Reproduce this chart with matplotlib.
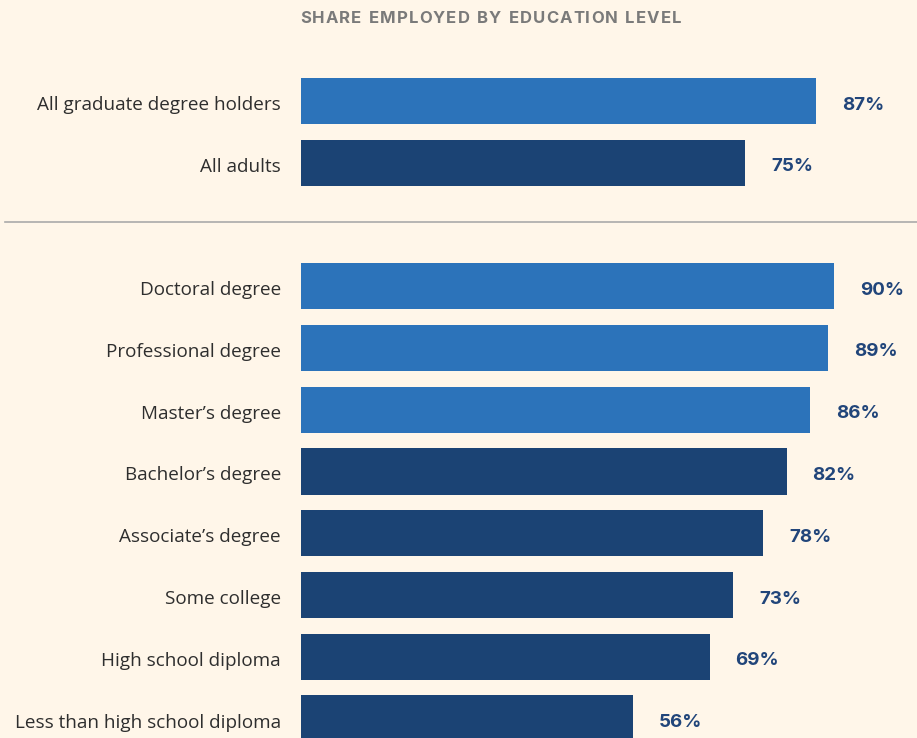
import numpy as np
import matplotlib.pyplot as plt

# data
top_labels = ["All graduate degree holders", "All adults"]
top_values = [87, 75]
top_colors = ["#2C73BA", "#1B4374"]

edu_labels = ["Doctoral degree", "Professional degree", "Master\u2019s degree",
              "Bachelor\u2019s degree", "Associate\u2019s degree", "Some college",
              "High school diploma", "Less than high school diploma"]
edu_values = [90, 89, 86, 82, 78, 73, 69, 56]
edu_colors = ["#2C73BA"] * 3 + ["#1B4374"] * 5

title = "SHARE EMPLOYED BY EDUCATION LEVEL"
bg = "#FFF6E9"

labels = top_labels + edu_labels
values = top_values + edu_values
colors = top_colors + edu_colors
# rows 0,1 then a gap row, then the education levels
rows = np.array([0, 1] + list(range(3, 3 + len(edu_labels))))

fig = plt.figure(figsize=(9.17, 7.38), dpi=100, facecolor=bg)
ax = fig.add_axes([0, 0, 1, 1])
ax.set_facecolor(bg)

px_per_pct = 5.922
row_px = 61.75
ax.set_xlim(-301 / px_per_pct, (917 - 301) / px_per_pct)
ax.set_ylim((738 - 101) / row_px, -101 / row_px)

ax.barh(rows, values, height=0.745, color=colors, edgecolor="none")

dy = 2 / row_px  # text sits a touch below bar centre
for r, lab, v in zip(rows, labels, values):
    ax.text(-20 / px_per_pct, r + dy, lab, ha="right", va="center_baseline",
            fontsize=13.6, color="#2E2E2E", family="Open Sans")
    ax.text(v + 26 / px_per_pct, r + dy, f"{v}%", ha="left", va="center_baseline",
            fontsize=13.5, fontweight="bold", color="#21457A", family="Inter")

ax.plot([-296 / px_per_pct, 104], [1.96, 1.96], color="#AAAAAA", lw=1.2,
        clip_on=False)

for s in ax.spines.values():
    s.set_visible(False)
ax.set_xticks([])
ax.set_yticks([])

# title with letter spacing: place each character, spread over 300..681 px
renderer = fig.canvas.get_renderer()
t_kw = dict(fontsize=12, fontweight="bold", color="#7A7A7A", family="Inter",
            va="center_baseline", ha="left")
widths = []
for ch in title:
    t = fig.text(0, 0, ch if ch != " " else "i", **t_kw)
    w = t.get_window_extent(renderer).width
    if ch == " ":
        w *= 1.2
    widths.append(w)
    t.remove()
track = (381 - sum(widths)) / (len(title) - 1)
x = 300.0
for ch, w in zip(title, widths):
    if ch != " ":
        fig.text(x / 917, 1 - 17 / 738, ch, **t_kw)
    x += w + track

fig.savefig("out.png", dpi=100, facecolor=bg)
